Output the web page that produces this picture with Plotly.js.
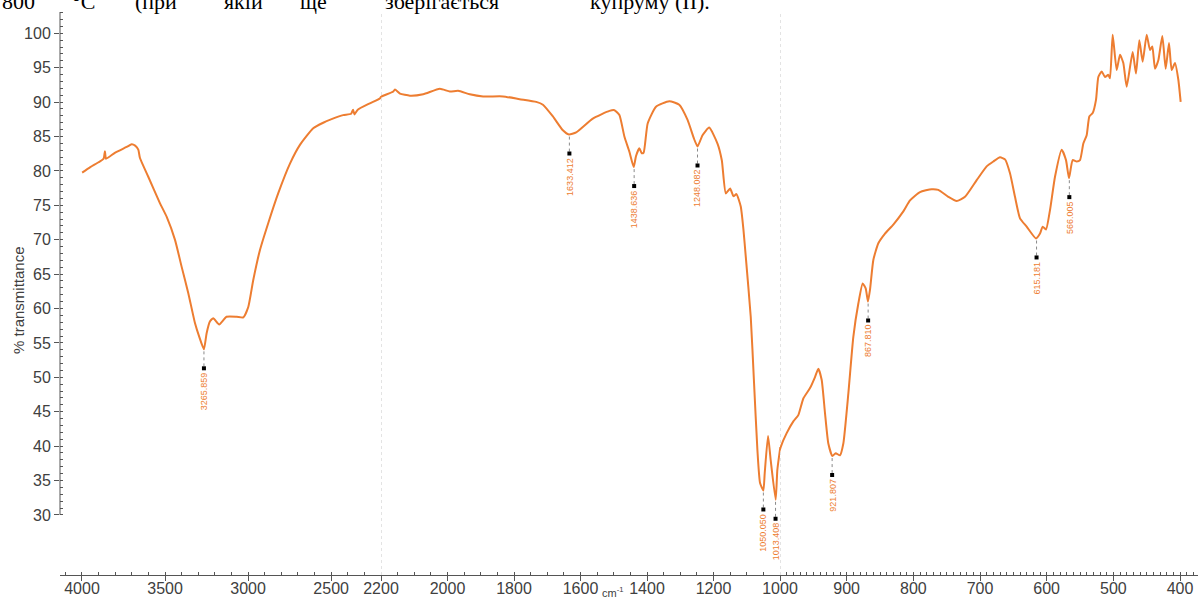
<!DOCTYPE html>
<html>
<head>
<meta charset="utf-8">
<script src="https://cdn.plot.ly/plotly-3.0.1.min.js"></script>
<style>html,body{margin:0;padding:0;background:#fff;}</style>
</head>
<body>
<div id="chart" style="width:1198px;height:598px;"></div>
<script>
// ---- data ----
const wavenumber = [
3999, 3950, 3900, 3870, 3862, 3855, 3800, 3731, 3701, 3680,
3661, 3651, 3601, 3531, 3490, 3440, 3400, 3360, 3320, 3294,
3266, 3250, 3230, 3210, 3174, 3130, 3069, 3029, 2999, 2969,
2929, 2879, 2819, 2748, 2688, 2608, 2548, 2490, 2428, 2380,
2368, 2360, 2340, 2267, 2207, 2198, 2163, 2158, 2143, 2113,
2073, 2023, 1993, 1968, 1933, 1893, 1833, 1783, 1733, 1713,
1683, 1653, 1635, 1613, 1563, 1513, 1498, 1483, 1468, 1453,
1440, 1433, 1423, 1416, 1410, 1398, 1373, 1333, 1303, 1278,
1258, 1248, 1233, 1213, 1188, 1175, 1163, 1150, 1140, 1131,
1118, 1110, 1103, 1088, 1078, 1068, 1060, 1050, 1046, 1036,
1028, 1013, 1008, 999, 990, 980, 972.5, 965, 955, 947.5,
942.5, 937.5, 932.5, 927.5, 921.5, 916.5, 910, 905, 897.5, 890,
882.5, 876, 871.5, 868, 865, 860, 852.5, 842.5, 830, 815,
805, 790, 772.5, 762.5, 747.5, 735, 722.5, 705, 690, 680,
670, 662.5, 655, 647.5, 640, 630, 616, 610, 606, 601,
595, 587.5, 577.5, 571, 566.5, 561, 555, 550, 545, 540,
536, 531, 526, 522.5, 517.5, 512.5, 507.5, 505, 501, 495,
490, 485, 480, 471, 466, 461, 456, 450, 445, 441.5,
437.5, 432.5, 426.5, 421.5, 416.5, 412.5, 407.5, 402.5, 399
];
const transmittance = [
79.75, 80.55, 81.26, 81.77, 82.87, 81.77, 82.67, 83.48, 83.88, 83.68,
83.08, 81.87, 79.15, 75.32, 73.31, 69.98, 66.05, 62.23, 57.89, 55.88,
54.07, 56.38, 58.1, 58.6, 57.69, 58.8, 58.8, 58.7, 60.21, 64.14,
68.47, 72.4, 76.73, 81.06, 83.78, 86.2, 87.0, 87.6, 88.11, 88.3,
88.9, 88.2, 88.9, 89.83, 90.53, 90.83, 91.54, 91.84, 91.24, 90.93,
91.14, 91.94, 91.54, 91.64, 91.14, 90.83, 90.83, 90.43, 90.03, 89.62,
87.91, 85.9, 85.29, 85.6, 87.61, 88.72, 88.82, 88.11, 84.99, 82.78,
80.56, 82.17, 83.28, 82.57, 82.67, 86.9, 89.32, 90.13, 89.62, 87.41,
84.6, 83.55, 85.19, 86.3, 83.98, 81.55, 76.73, 77.44, 76.33, 76.63,
74.82, 71.5, 67.57, 58.8, 49.13, 39.46, 34.63, 33.55, 36.04, 41.48,
37.95, 32.2, 36.54, 39.86, 41.88, 43.59, 44.5, 46.92, 48.43, 50.04,
51.25, 49.64, 44.8, 40.37, 38.56, 38.96, 38.66, 40.37, 47.62, 55.88,
60.72, 63.64, 62.93, 61.02, 62.73, 67.06, 69.48, 70.89, 72.2, 74.11,
75.72, 76.93, 77.34, 77.24, 76.23, 75.62, 76.23, 78.65, 80.66, 81.37,
81.97, 81.67, 79.65, 76.23, 73.1, 71.9, 70.18, 70.89, 71.9, 71.49,
74.31, 79.15, 83.08, 81.57, 78.95, 81.57, 81.37, 81.57, 83.98, 85.19,
87.91, 88.42, 90.33, 93.65, 94.46, 93.65, 93.96, 93.45, 99.8, 94.66,
96.88, 95.67, 92.24, 97.28, 94.16, 98.99, 95.87, 99.8, 97.58, 98.09,
94.86, 96.07, 99.6, 94.86, 98.59, 94.66, 95.67, 93.25, 90.03
];

const peakWavenumber = [3265.859, 1633.412, 1438.636, 1248.082, 1050.050, 1013.408, 921.807, 867.810, 615.181, 566.005];
const peakTransmittance = [54.07, 85.29, 80.56, 83.55, 33.55, 32.2, 38.56, 61.02, 70.18, 78.95];
const peakLabels = ["3265.859", "1633.412", "1438.636", "1248.082", "1050.050", "1013.408", "921.807", "867.810", "615.181", "566.005"];

// x axis is broken into three linear pieces
const segmentBreaks = [2200, 1000];
const seg1Ticks = [4000, 3500, 3000, 2500];
const seg2Ticks = [2200, 2000, 1800, 1600, 1400, 1200];
const seg3Ticks = [1000, 900, 800, 700, 600, 500, 400];
const seg1Minor = [4100, 4000, 3900, 3800, 3700, 3600, 3500, 3400, 3300, 3200, 3100, 3000, 2900, 2800, 2700, 2600, 2500, 2400, 2300];
const seg2Minor = [2150, 2100, 2050, 2000, 1950, 1900, 1850, 1800, 1750, 1700, 1650, 1600, 1550, 1500, 1450, 1400, 1350, 1300, 1250, 1200, 1150, 1100, 1050];
const seg3Minor = [990, 980, 970, 960, 950, 940, 930, 920, 910, 900, 890, 880, 870, 860, 850, 840, 830, 820, 810, 800, 790, 780, 770, 760, 750, 740, 730, 720, 710, 700, 690, 680, 670, 660, 650, 640, 630, 620, 610, 600, 590, 580, 570, 560, 550, 540, 530, 520, 510, 500, 490, 480, 470, 460, 450, 440, 430, 420, 410, 400, 390, 380];
const yTicks = [30, 35, 40, 45, 50, 55, 60, 65, 70, 75, 80, 85, 90, 95, 100];
const yMinor = [30,31,32,33,34,35,36,37,38,39,40,41,42,43,44,45,46,47,48,49,50,51,52,53,54,55,56,57,58,59,60,61,62,63,64,65,66,67,68,69,70,71,72,73,74,75,76,77,78,79,80,81,82,83,84,85,86,87,88,89,90,91,92,93,94,95,96,97,98,99,100,101,102,103];

const headerWords = ["800", "°C", "(при", "якій", "ще", "зберігається", "купруму (ІІ)."];

// ---- geometry / style ----
const W = 1198, H = 598;
const mL = 60, mR = 0, mT = 12, mB = 23;
const plotW = W - mL - mR;
const plotH = H - mT - mB;
const d1 = (381 - mL) / plotW;
const d2 = (780 - mL) / plotW;
const lineColor = '#ED7D31';
const axisColor = '#555555';
const textColor = '#404040';
const sans = 'Liberation Sans, Arial, sans-serif';
const tickFont = {family: sans, size: 16, color: textColor};

function axisOf(x) { return x >= segmentBreaks[0] ? 'x' : (x >= segmentBreaks[1] ? 'x2' : 'x3'); }

const segDefs = [
  {ax: 'x', test: x => x >= segmentBreaks[0]},
  {ax: 'x2', test: x => x <= segmentBreaks[0] && x >= segmentBreaks[1]},
  {ax: 'x3', test: x => x <= segmentBreaks[1]}
];

const traces = [];
segDefs.forEach(s => {
  const keep = new Set();
  wavenumber.forEach((x, i) => {
    if (s.test(x)) { keep.add(i); if (i > 0) keep.add(i - 1); if (i < wavenumber.length - 1) keep.add(i + 1); }
  });
  const idx = Array.from(keep).sort((a, b) => a - b);
  traces.push({
    x: idx.map(i => wavenumber[i]), y: idx.map(i => transmittance[i]),
    xaxis: s.ax, yaxis: 'y', type: 'scatter', mode: 'lines',
    line: {color: lineColor, width: 2, shape: 'spline', smoothing: 0.5}, hoverinfo: 'skip', showlegend: false
  });
});

// peak markers and dotted leaders
const pxPerUnit = 6.88;
const markerGap = 19 / pxPerUnit;
['x', 'x2', 'x3'].forEach(ax => {
  const lx = [], ly = [], mx = [], my = [];
  peakWavenumber.forEach((p, i) => {
    if (axisOf(p) !== ax) return;
    lx.push(p, p, null); ly.push(peakTransmittance[i] - 0.3, peakTransmittance[i] - markerGap, null);
    mx.push(p); my.push(peakTransmittance[i] - markerGap);
  });
  if (!mx.length) return;
  traces.push({x: lx, y: ly, xaxis: ax, yaxis: 'y', mode: 'lines', line: {color: '#8a8a8a', width: 1, dash: 'dot'}, hoverinfo: 'skip', showlegend: false, connectgaps: false});
  traces.push({x: mx, y: my, xaxis: ax, yaxis: 'y', mode: 'markers', marker: {symbol: 'square', size: 4, color: '#000'}, hoverinfo: 'skip', showlegend: false});
});

const annotations = peakWavenumber.map((p, i) => ({
  x: p, y: peakTransmittance[i], xref: axisOf(p), yref: 'y',
  text: peakLabels[i], showarrow: false, textangle: -90,
  xanchor: 'center', yanchor: 'top', yshift: -21,
  font: {family: sans, size: 9, color: lineColor}
}));

annotations.push({
  x: (613 - mL) / plotW, y: 0, xref: 'paper', yref: 'paper', yanchor: 'top', xanchor: 'center', yshift: -8,
  text: 'cm<sup>-1</sup>', showarrow: false,
  font: {family: sans, size: 11, color: textColor}
});

// y axis title (placed as rotated text at the reference's position)
annotations.push({
  x: (18 - mL) / plotW, y: (H - mB - 300) / plotH, xref: 'paper', yref: 'paper',
  xanchor: 'center', yanchor: 'middle', textangle: -90, showarrow: false,
  text: '% transmittance', font: {family: sans, size: 15, color: textColor}
});

const headerLeft = [0, 70, 133, 222, 298, 383, 588];
headerWords.forEach((w, i) => {
  annotations.push({
    x: (headerLeft[i] - mL) / plotW, y: 1, xref: 'paper', yref: 'paper',
    xanchor: 'left', yanchor: 'bottom', yshift: -4, showarrow: false, text: w,
    font: {family: 'Liberation Serif, Times New Roman, serif', size: 22, color: '#000'}
  });
});

function xAxis(domain, range, ticks, minor) {
  return {
    domain: domain, range: range, anchor: 'y',
    tickmode: 'array', tickvals: ticks, ticktext: ticks.map(String),
    showline: true, linecolor: axisColor, linewidth: 1,
    ticks: 'outside', ticklen: 5, tickcolor: axisColor, tickwidth: 1,
    ticklabelstandoff: -6,
    minor: {tickmode: 'array', tickvals: minor, ticks: 'inside', ticklen: 3, tickcolor: axisColor, showgrid: false},
    showgrid: false, zeroline: false, tickfont: tickFont, fixedrange: true
  };
}

const layout = {
  width: W, height: H,
  margin: {l: mL, r: mR, t: mT, b: mB, pad: 0},
  paper_bgcolor: '#fff', plot_bgcolor: '#fff',
  showlegend: false,
  xaxis: xAxis([0, d1], [4000 + 22 / 0.1662, 2200], seg1Ticks, seg1Minor),
  xaxis2: xAxis([d1, d2], [2200, 1000], seg2Ticks, seg2Minor),
  xaxis3: xAxis([d2, 1], [1000, 1000 - 418 * 1.5], seg3Ticks, seg3Minor),
  yaxis: {
    domain: [0, 1], range: [100 - (575 - 33.3) / pxPerUnit, 100 + (33.3 - 12) / pxPerUnit],
    tickmode: 'array', tickvals: yTicks, ticktext: yTicks.map(String),
    ticks: 'outside', ticklen: 5, tickcolor: axisColor, tickwidth: 1,
    minor: {tickmode: 'array', tickvals: yMinor, ticks: 'inside', ticklen: 3, tickcolor: axisColor, showgrid: false},
    showline: false, showgrid: false, zeroline: false, tickfont: tickFont,
    fixedrange: true
  },
  shapes: [
    {type: 'line', xref: 'paper', yref: 'y', x0: 0, x1: 0, y0: yTicks[0], y1: 100 + (33.3 - 12) / pxPerUnit, line: {color: axisColor, width: 1}},
    {type: 'line', xref: 'x2', yref: 'paper', x0: segmentBreaks[0], x1: segmentBreaks[0], y0: 0, y1: 1, line: {color: '#c8c8c8', width: 1, dash: 'dot'}, layer: 'below'},
    {type: 'line', xref: 'x3', yref: 'paper', x0: segmentBreaks[1], x1: segmentBreaks[1], y0: 0, y1: 1, line: {color: '#c8c8c8', width: 1, dash: 'dot'}, layer: 'below'}
  ],
  annotations: annotations
};

Plotly.newPlot('chart', traces, layout, {displayModeBar: false, staticPlot: true});
</script>
</body>
</html>
